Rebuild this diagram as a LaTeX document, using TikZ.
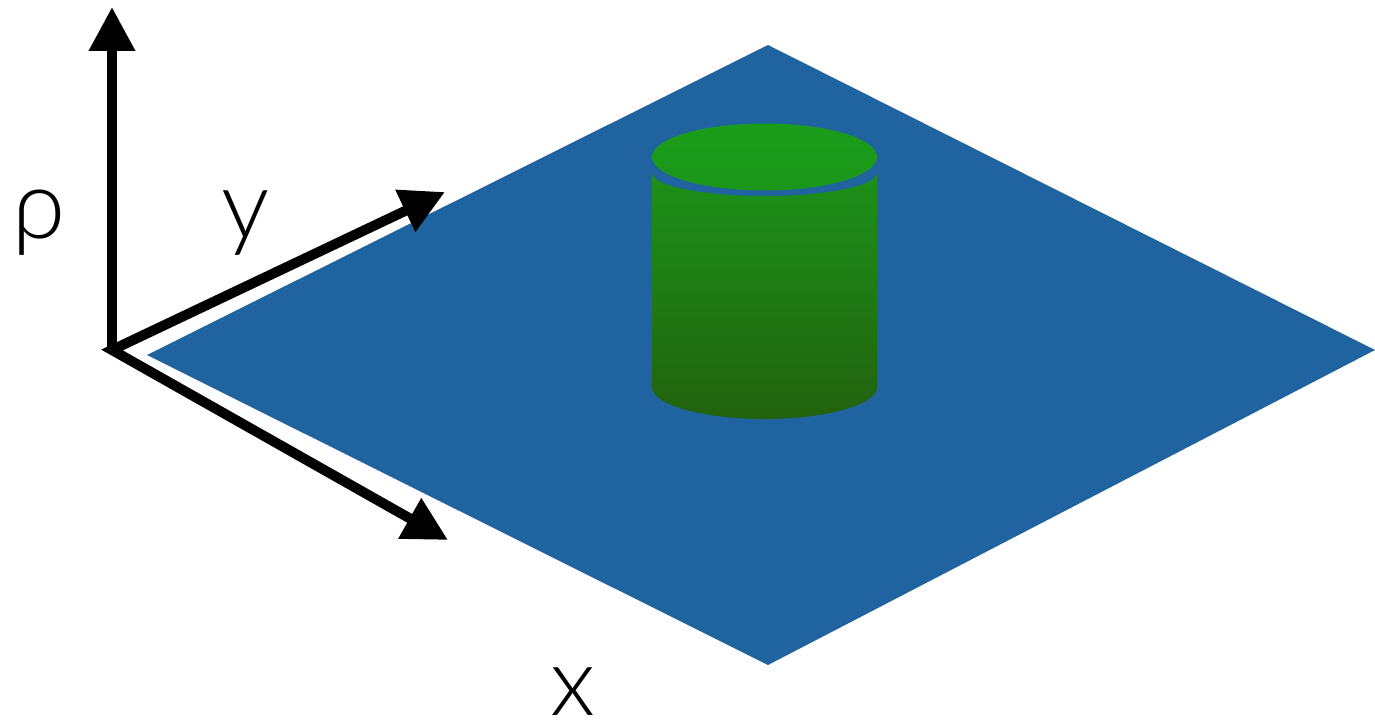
\documentclass[tikz,border=0pt]{standalone}
\usepackage{fontspec}
\setmainfont{Lato Light}
\usetikzlibrary{arrows.meta}
\definecolor{plane}{RGB}{31,100,160}
\definecolor{gtopA}{RGB}{26,157,26}
\definecolor{gtopB}{RGB}{27,150,25}
\definecolor{gbodyA}{RGB}{28,145,25}
\definecolor{gbodyB}{RGB}{34,98,14}
\tikzset{
  axis/.style={line width=10pt, -{Triangle[width=44pt,length=44pt]}},
  axislabel/.style={anchor=base, inner sep=0pt, font=\fontsize{96}{96}\selectfont}
}
\begin{document}
\begin{tikzpicture}[x=1pt,y=-1pt]
\useasboundingbox (0,0) rectangle (1375,722);
% plane
\coordinate (pL) at (147,355);
\coordinate (pT) at (768,45);
\coordinate (pR) at (1375,350);
\coordinate (pB) at (768,665);
\fill[plane] (pL) -- (pT) -- (pR) -- (pB) -- cycle;
% cylinder body
\shade[top color=gbodyA, bottom color=gbodyB]
  (652,173) -- (652,387) arc[start angle=180, end angle=360, x radius=112.5pt, y radius=32pt]
  -- (877,173) arc[start angle=0, end angle=-180, x radius=112.5pt, y radius=23pt] -- cycle;
% cylinder top
\shade[top color=gtopA, bottom color=gtopB] (764.5,157) ellipse[x radius=112.5pt, y radius=33.5pt];
% axes
\coordinate (O) at (112,350);
\coordinate (rhoTip) at (112,7);
\coordinate (yTip) at (445,192);
\coordinate (xTip) at (448,540);
\draw[axis] (O) -- (rhoTip);
\draw[line width=10pt, miter limit=10, {Triangle[width=44pt,length=44pt]}-{Triangle[width=44pt,length=44pt]}] (yTip) -- (O) -- (xTip);
% labels
\node[axislabel] (rho) at (39,238) {ρ};
\node[axislabel] (ylab) at (246,238) {y};
\node[axislabel] (xlab) at (573,715) {x};
\end{tikzpicture}
\end{document}
